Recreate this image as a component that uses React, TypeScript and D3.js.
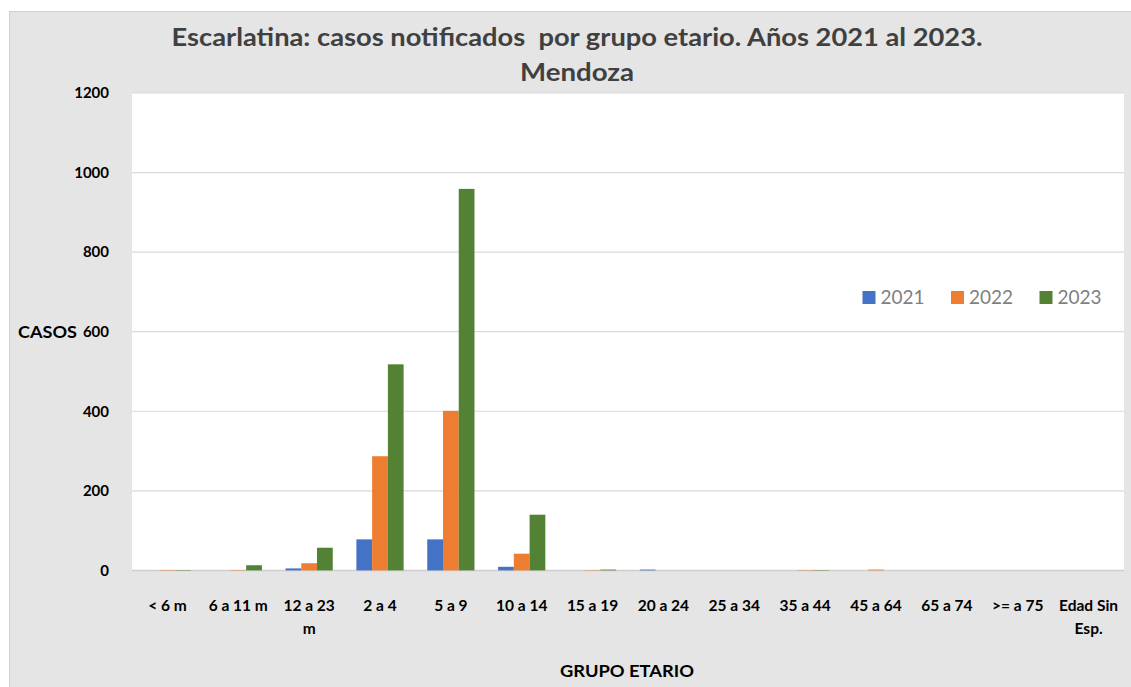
import React from "react";
import * as d3 from "d3";

const categories = ["< 6 m", "6 a 11 m", "12 a 23\nm", "2 a 4", "5 a 9", "10 a 14", "15 a 19", "20 a 24", "25 a 34", "35 a 44", "45 a 64", "65 a 74", ">= a 75", "Edad Sin\nEsp."];
const seriesNames = ["2021", "2022", "2023"];
const values2021 = [0, 0, 5, 78, 78, 9, 0, 2, 0, 0, 0, 0, 0, 0];
const values2022 = [1, 1, 18, 287, 401, 42, 1, 0, 0, 1, 2, 0, 0, 0];
const values2023 = [1, 13, 57, 518, 959, 140, 2, 0, 0, 1, 0, 0, 0, 0];
const yTicks = [0, 200, 400, 600, 800, 1000, 1200];
const colors = ["#4472c4", "#ed7d31", "#548235"];

const W = 1131, H = 687;
const plot = { left: 132, right: 1124, top: 93, bottom: 570.4 };
const FONT = "Lato, 'Open Sans', sans-serif";

export default function App() {
  const series = [values2021, values2022, values2023];
  const x0 = d3.scaleBand<string>().domain(categories).range([plot.left, plot.right]).padding(0);
  const step = x0.bandwidth();
  const bw = step / 4.5;
  const x1 = d3.scaleBand<string>().domain(seriesNames).range([bw * 0.75, step - bw * 0.75]).padding(0);
  const y = d3.scaleLinear().domain([0, 1200]).range([plot.bottom, plot.top]);

  return (
    <div style={{ position: "absolute", left: 0, top: 0 }}>
      <svg width={W} height={H} style={{ display: "block" }}>
        <rect x={0} y={0} width={W} height={H} fill="#ffffff" />
        <rect x={9.5} y={11.5} width={W + 10} height={H + 10} fill="#e5e5e5" stroke="#d0d0d0" strokeWidth={1} />
        <rect x={plot.left} y={plot.top} width={plot.right - plot.left} height={plot.bottom - plot.top} fill="#ffffff" />
        {yTicks.map((t) => (
          <line key={t} x1={plot.left} x2={plot.right} y1={y(t)} y2={y(t)} stroke={t === 0 ? "#cfcfcf" : "#d9d9d9"} strokeWidth={t === 0 ? 1.5 : 1.2} />
        ))}
        {categories.map((c, i) => (
          <g key={c} transform={`translate(${x0(c)},0)`}>
            {seriesNames.map((s, j) => {
              const v = series[j][i];
              const top = y(v);
              return (
                <rect key={s} x={x1(s)} y={top} width={x1.bandwidth()} height={Math.max(0, plot.bottom - top)} fill={colors[j]} />
              );
            })}
          </g>
        ))}
        {yTicks.map((t) => (
          <text key={t} x={109} y={y(t)} dy="0.35em" textAnchor="end" fontFamily={FONT} fontWeight={700} fontSize={15} fill="#000">
            {t}
          </text>
        ))}
        <text x={18} y={y(600)} dy="0.35em" fontFamily={FONT} fontWeight={700} fontSize={17} fill="#000" textLength={59} lengthAdjust="spacingAndGlyphs">CASOS</text>
        {categories.map((c) => (
          <text key={c} x={(x0(c) as number) + step / 2} y={606} textAnchor="middle" fontFamily={FONT} fontWeight={700} fontSize={15.5} fill="#000">
            {c.split("\n").map((line, k) => (
              <tspan key={k} x={(x0(c) as number) + step / 2} dy={k === 0 ? "0.35em" : 23}>{line}</tspan>
            ))}
          </text>
        ))}
        <text x={627} y={671} dy="0.35em" textAnchor="middle" fontFamily={FONT} fontWeight={700} fontSize={17} fill="#000" textLength={134} lengthAdjust="spacingAndGlyphs">GRUPO ETARIO</text>
        <text x={577} y={37} dy="0.35em" textAnchor="middle" fontFamily={FONT} fontWeight={700} fontSize={25} fill="#404040" textLength={811} lengthAdjust="spacingAndGlyphs" style={{ whiteSpace: "pre" }}>
          Escarlatina: casos notificados  por grupo etario. Años 2021 al 2023.
        </text>
        <text x={577} y={72} dy="0.35em" textAnchor="middle" fontFamily={FONT} fontWeight={700} fontSize={25} fill="#404040" textLength={114} lengthAdjust="spacingAndGlyphs">
          Mendoza
        </text>
        {seriesNames.map((s, j) => {
          const lx = [862.5, 951, 1039.5][j];
          return (
            <g key={s}>
              <rect x={lx} y={291} width={13} height={13} fill={colors[j]} />
              <text x={lx + 18} y={297.5} dy="0.35em" fontFamily={FONT} fontSize={19} fill="#7f7f7f">{s}</text>
            </g>
          );
        })}
      </svg>
    </div>
  );
}
